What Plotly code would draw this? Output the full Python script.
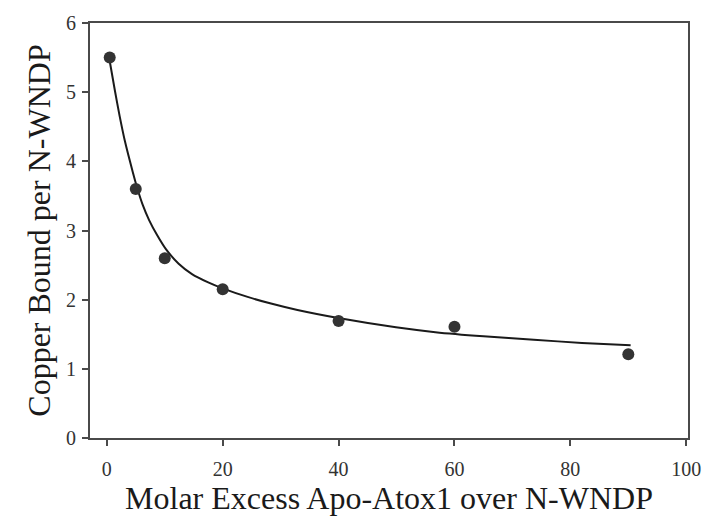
import plotly.graph_objects as go

# Measured data points
excess = [0.5, 5, 10, 20, 40, 60, 90]
copper = [5.5, 3.6, 2.6, 2.15, 1.69, 1.61, 1.21]

# Fitted curve
fit_x = [0.5, 1.4, 2.2, 3.1, 4.5, 5.3, 6.2, 7.3, 8.7, 10.2, 12.4, 14.7, 17.5, 20.1,
         24.3, 28.5, 32.9, 40.2, 49.9, 56.7, 65, 73.7, 82, 90.4]
fit_y = [5.45, 5.02, 4.66, 4.3, 3.84, 3.6, 3.37, 3.15, 2.93, 2.73, 2.52, 2.37, 2.25, 2.16,
         2.04, 1.94, 1.85, 1.73, 1.6, 1.53, 1.47, 1.42, 1.375, 1.34]

x_ticks = [0, 20, 40, 60, 80, 100]
y_ticks = [0, 1, 2, 3, 4, 5, 6]

fig = go.Figure()
fig.add_trace(go.Scatter(x=fit_x, y=fit_y, mode="lines",
                         line=dict(color="#1a1a1a", width=2, shape="spline", smoothing=0.6),
                         hoverinfo="skip", showlegend=False))
fig.add_trace(go.Scatter(x=excess, y=copper, mode="markers",
                         marker=dict(color="#333333", size=12),
                         showlegend=False))

axis_common = dict(showgrid=False, zeroline=False, showline=True, linecolor="#4a4a4a",
                   linewidth=2, mirror=True, ticks="outside", tickcolor="#4a4a4a",
                   ticklen=6, tickwidth=1.5,
                   tickfont=dict(family="Liberation Serif", size=20, color="#333333"))

fig.update_layout(
    width=713, height=531,
    margin=dict(l=90, r=17, t=18, b=93),
    paper_bgcolor="white", plot_bgcolor="white",
    xaxis=dict(range=[-2.9, 100.3], tickvals=x_ticks, ticklabelstandoff=6,
               title=dict(text="Molar Excess Apo-Atox1 over N-WNDP", standoff=8,
                          font=dict(family="Liberation Serif", size=32, color="#1a1a1a")),
               **axis_common),
    yaxis=dict(range=[0, 6], tickvals=y_ticks, ticklabelstandoff=2,
               title=dict(text="Copper Bound per N-WNDP", standoff=6,
                          font=dict(family="Liberation Serif", size=32, color="#1a1a1a")),
               **axis_common),
)

fig.write_html("out.html")
